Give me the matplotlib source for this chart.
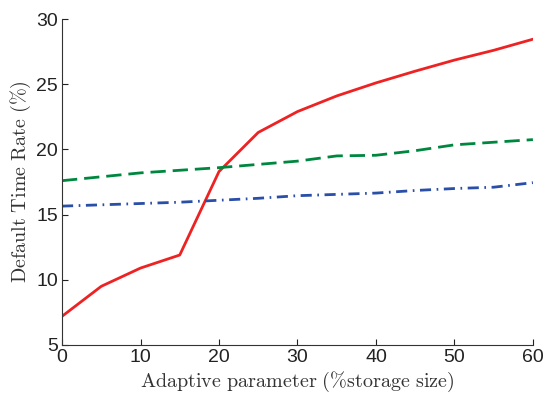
import matplotlib
matplotlib.use('Agg')
import matplotlib.pyplot as plt

plt.rcParams['font.family'] = ['Liberation Sans', 'DejaVu Sans']
plt.rcParams['mathtext.fontset'] = 'cm'

x = [0, 5, 10, 15, 20, 25, 30, 35, 40, 45, 50, 55, 60]
red = [7.2, 9.5, 10.9, 11.9, 18.3, 21.3, 22.9, 24.1, 25.1, 26.0, 26.85, 27.6, 28.45]
green = [17.6, 17.9, 18.2, 18.4, 18.6, 18.85, 19.1, 19.5, 19.55, 19.9, 20.35, 20.55, 20.75]
blue = [15.65, 15.75, 15.85, 15.95, 16.1, 16.25, 16.45, 16.55, 16.65, 16.85, 17.0, 17.1, 17.45]

xticks = [0, 10, 20, 30, 40, 50, 60]
yticks = [5, 10, 15, 20, 25, 30]

fig = plt.figure(figsize=(5.46, 3.96), dpi=100)
ax = fig.add_axes([0.1136, 0.1288, 0.8624, 0.8232])

ax.plot(x, red, '-', color='#ee2222', lw=2.0)
ax.plot(x, green, color='#00873f', lw=2.0, dashes=(5.5, 2.5))
ax.plot(x, blue, color='#2a4fa8', lw=2.0, dashes=(4, 2, 0.6, 2))

ax.set_xlim(0, 60)
ax.set_ylim(5, 30)
ax.set_xticks(xticks)
ax.set_yticks(yticks)
ax.tick_params(direction='in', labelsize=14, length=4, width=0.8, colors='#222222', pad=3)
ax.spines['top'].set_visible(False)
ax.spines['right'].set_visible(False)
for s in ('left', 'bottom'):
    ax.spines[s].set_color('#333333')
    ax.spines[s].set_linewidth(0.8)

ax.set_xlabel(r'$\mathrm{Adaptive\ parameter\ (\%storage\ size)}$', fontsize=14.5, labelpad=3, color='#333333')
ax.set_ylabel(r'$\mathrm{Default\ Time\ Rate\ (\%)}$', fontsize=14.5, labelpad=2, color='#333333')

fig.savefig('out.png', dpi=100)
